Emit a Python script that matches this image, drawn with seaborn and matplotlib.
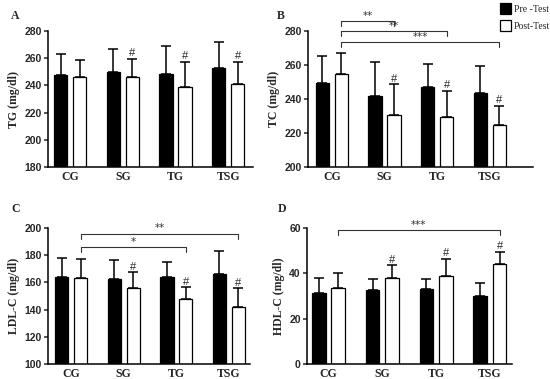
import matplotlib
matplotlib.use("Agg")
import matplotlib.pyplot as plt
import seaborn as sns
import pandas as pd
import numpy as np

# values (mean and SD, mg/dl)
groups = ["CG", "SG", "TG", "TSG"]
tests = ["Pre -Test", "Post-Test"]

tg_pre = [247.8, 249.8, 248.6, 252.7]
tg_pre_sd = [15.6, 17.0, 20.6, 19.5]
tg_post = [245.9, 245.9, 239.0, 240.8]
tg_post_sd = [13.1, 13.6, 18.5, 16.7]

tc_pre = [249.2, 241.7, 247.2, 243.7]
tc_pre_sd = [16.3, 19.8, 13.1, 15.6]
tc_post = [254.5, 230.5, 229.5, 224.6]
tc_post_sd = [12.5, 18.3, 15.3, 11.4]

ldl_pre = [163.7, 162.2, 163.9, 165.9]
ldl_pre_sd = [13.9, 14.4, 10.8, 17.2]
ldl_post = [163.1, 155.6, 148.0, 141.6]
ldl_post_sd = [13.8, 11.9, 8.6, 14.0]

hdl_pre = [31.5, 32.6, 33.0, 30.1]
hdl_pre_sd = [6.6, 4.9, 4.5, 5.8]
hdl_post = [33.4, 38.1, 38.8, 44.0]
hdl_post_sd = [6.9, 5.4, 7.7, 5.5]

# groups marked "#" (post vs pre) in every panel
hash_groups = ["SG", "TG", "TSG"]

# comparison brackets: (from group, to group, height, label), post-test bars
tc_brackets = [("CG", "SG", 286.0, "**"), ("CG", "TG", 280.0, "**"), ("CG", "TSG", 273.3, "***")]
ldl_brackets = [("CG", "TSG", 195.9, "**"), ("CG", "TG", 186.1, "*")]
hdl_brackets = [("CG", "TSG", 59.0, "***")]

W, H = 550, 379
sns.set_style("ticks")
plt.rcParams["font.family"] = ["Liberation Serif", "DejaVu Serif"]

fig = plt.figure(figsize=(W / 100, H / 100), dpi=100)


def px_rect(x0, x1, ytop, ybot):
    return [x0 / W, 1 - ybot / H, (x1 - x0) / W, (ybot - ytop) / H]


def draw_panel(rect, pre, pre_sd, post, post_sd, ylabel, ylim, step, xlim,
               letter, letter_xy, brackets=(), legend=False):
    ax = fig.add_axes(rect)
    df = pd.DataFrame({
        "group": groups * 2,
        "test": [tests[0]] * 4 + [tests[1]] * 4,
        "value": pre + post,
    })
    sns.barplot(data=df, x="group", y="value", hue="test", hue_order=tests,
                palette=["black", "white"], edgecolor="black", linewidth=0.9,
                errorbar=None, width=0.72, gap=0.3, legend=legend, ax=ax,
                zorder=2)

    # upper-only SD bars, placed on the drawn bars
    xpos = {}
    for cont, means, sds, t in zip(ax.containers, [pre, post], [pre_sd, post_sd], tests):
        xs = [b.get_x() + b.get_width() / 2 for b in cont]
        for g, x in zip(groups, xs):
            xpos[(g, t)] = x
        ax.errorbar(xs, means, yerr=[np.zeros(4), sds], fmt="none", ecolor="black",
                    elinewidth=1.1, capsize=3.4, capthick=1.1, zorder=3)

    for g in hash_groups:
        i = groups.index(g)
        ax.annotate("#", (xpos[(g, tests[1])], post[i] + post_sd[i]),
                    xytext=(0, 0.3), textcoords="offset points", ha="center",
                    va="bottom", fontsize=8, family="Liberation Sans",
                    annotation_clip=False)

    yr = ylim[1] - ylim[0]
    for g0, g1, y, lab in brackets:
        x0, x1 = xpos[(g0, tests[1])], xpos[(g1, tests[1])]
        d = yr * 0.037
        ax.plot([x0, x0, x1, x1], [y - d, y, y, y - d], color="#333333",
                lw=0.8, clip_on=False, zorder=4)
        ax.text((x0 + x1) / 2, y + yr * 0.002, lab, ha="center", va="bottom",
                fontsize=7.5, family="DejaVu Sans", color="#333333")

    ax.set_ylim(*ylim)
    ax.set_yticks(np.arange(ylim[0], ylim[1] + 1, step))
    ax.set_xlim(*xlim)
    ax.set_xlabel("")
    ax.set_ylabel(ylabel, fontsize=8.5, fontweight="bold", labelpad=3)
    sns.despine(ax=ax)
    for s in ["left", "bottom"]:
        ax.spines[s].set_linewidth(1.1)
        ax.spines[s].set_color("black")
    ax.tick_params(axis="y", length=3, width=1.1, pad=1.5, labelsize=7.5)
    ax.tick_params(axis="x", length=0, pad=3, labelsize=8.5)
    for t in ax.get_yticklabels():
        t.set_fontweight("bold")
        t.set_family("Liberation Sans")
    for t in ax.get_xticklabels():
        t.set_fontweight("bold")
    fig.text(letter_xy[0] / W, 1 - letter_xy[1] / H, letter, fontsize=8.5,
             fontweight="bold", ha="left", va="center")
    return ax


draw_panel(px_rect(48, 253, 31, 167), tg_pre, tg_pre_sd, tg_post, tg_post_sd,
           "TG (mg/dl)", (180, 280), 20, (-0.42, 3.47), "A", (11, 16))
axb = draw_panel(px_rect(308, 533, 31, 167), tc_pre, tc_pre_sd, tc_post, tc_post_sd,
                 "TC (mg/dl)", (200, 280), 20, (-0.455, 3.82), "B", (277, 16),
                 brackets=tc_brackets, legend=True)
draw_panel(px_rect(48, 250, 228, 364), ldl_pre, ldl_pre_sd, ldl_post, ldl_post_sd,
           "LDL-C (mg/dl)", (100, 200), 20, (-0.44, 3.4), "C", (11, 209),
           brackets=ldl_brackets)
draw_panel(px_rect(307, 512, 228, 364), hdl_pre, hdl_pre_sd, hdl_post, hdl_post_sd,
           "HDL-C (mg/dl)", (0, 60), 20, (-0.4, 3.41), "D", (278, 209),
           brackets=hdl_brackets)

handles, labels = axb.get_legend_handles_labels()
axb.get_legend().remove()
fig.legend(handles, labels, loc="upper left", bbox_to_anchor=(500 / W, 1 - 3 / H),
           frameon=False, fontsize=7, handlelength=1.15, handleheight=1.3,
           handletextpad=0.3, labelspacing=0.7, borderpad=0, borderaxespad=0)

fig.savefig("out.png", dpi=100)
